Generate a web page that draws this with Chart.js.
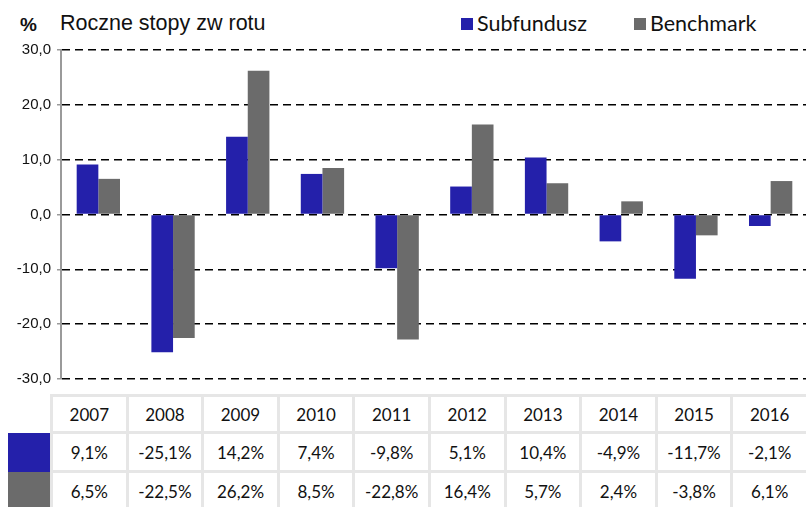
<!DOCTYPE html>
<html lang="pl">
<head>
<meta charset="UTF-8">
<title>Roczne stopy zwrotu</title>
<script src="https://cdn.jsdelivr.net/npm/chart.js"></script>
<style>
  body { margin: 0; background: #fff; }
  #wrap { position: relative; width: 806px; height: 507px; overflow: hidden; }
  #chartBox { position: absolute; left: 0; top: 0; width: 808px; height: 394px; }
  .txt { position: absolute; white-space: nowrap; color: #111; }
  #pct { left: 20px; top: 14px; font: bold 19px "Liberation Sans", Arial, sans-serif; }
  #title { left: 60px; top: 11px; font: 21.5px "Liberation Sans", Arial, sans-serif; }
  .leg { top: 10px; font: 21.5px Lato, sans-serif; }
  .leg span { display: inline-block; width: 12px; height: 12px; margin-right: 4px; vertical-align: 1px; }
  #tbl { position: absolute; left: 50px; top: 394px; width: 759px; table-layout: fixed;
         border-collapse: collapse; font: 17px Lato, sans-serif; color: #111; }
  #tbl td { border: 3px solid #e6e6e6; text-align: center; padding: 0; height: 36px; }
  #tbl tr:first-child td { height: 34px; }
  .sw { position: absolute; left: 8px; width: 44px; }
</style>
</head>
<body>
<div id="wrap">
  <div class="txt" id="pct">%</div>
  <div class="txt" id="title">Roczne stopy zw rotu</div>
  <div class="txt leg" style="left:461px"><span style="background:#2420aa"></span>Subfundusz</div>
  <div class="txt leg" style="left:634px"><span style="background:#6b6b6b"></span>Benchmark</div>
  <div id="chartBox"><canvas id="stopy"></canvas></div>
  <div class="sw" style="top:433px;height:39px;background:#2420aa"></div>
  <div class="sw" style="top:472px;height:40px;background:#6b6b6b"></div>
  <table id="tbl"></table>
</div>

<script>
  // dane
  const lata = ["2007", "2008", "2009", "2010", "2011", "2012", "2013", "2014", "2015", "2016"];
  const subfundusz = [9.1, -25.1, 14.2, 7.4, -9.8, 5.1, 10.4, -4.9, -11.7, -2.1];
  const benchmark = [6.5, -22.5, 26.2, 8.5, -22.8, 16.4, 5.7, 2.4, -3.8, 6.1];
  const yTicks = [-30, -20, -10, 0, 10, 20, 30];

  const kolorSub = "#2420aa";
  const kolorBench = "#6b6b6b";

  const fmt = v => v.toFixed(1).replace(".", ",");

  // tabela pod wykresem
  const tbl = document.getElementById("tbl");
  const rows = [lata, subfundusz.map(v => fmt(v) + "%"), benchmark.map(v => fmt(v) + "%")];
  rows.forEach(r => {
    const tr = document.createElement("tr");
    r.forEach(c => {
      const td = document.createElement("td");
      td.textContent = c;
      tr.appendChild(td);
    });
    tbl.appendChild(tr);
  });

  const ctx = document.getElementById("stopy").getContext("2d");
  new Chart(ctx, {
    type: "bar",
    data: {
      labels: lata,
      datasets: [
        { label: "Subfundusz", data: subfundusz, backgroundColor: kolorSub },
        { label: "Benchmark", data: benchmark, backgroundColor: kolorBench }
      ]
    },
    options: {
      responsive: true,
      maintainAspectRatio: false,
      animation: false,
      layout: { padding: { top: 50, right: 0, bottom: 2, left: 0 } },
      plugins: { legend: { display: false }, tooltip: { enabled: false } },
      datasets: { bar: { categoryPercentage: 0.58, barPercentage: 1.0 } },
      scales: {
        x: { display: false },
        y: {
          min: -30, max: 30,
          afterBuildTicks: s => { s.ticks = yTicks.map(v => ({ value: v })); },
          afterFit: s => { s.width = 61; },
          grid: {
            color: "#000", lineWidth: 1.5, tickLength: 4,
            tickColor: "#9a9a9a", drawTicks: true
          },
          border: { display: true, color: "#9a9a9a", width: 2, dash: [8, 5] },
          ticks: {
            padding: 6, color: "#111",
            font: { family: "'Liberation Sans', Arial", size: 15 },
            callback: v => fmt(v)
          }
        }
      }
    }
  });
</script>
</body>
</html>
